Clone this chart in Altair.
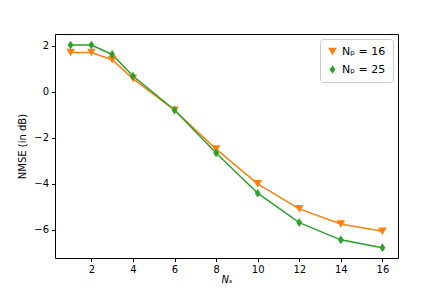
import altair as alt
import pandas as pd

ns = [1, 2, 3, 4, 6, 8, 10, 12, 14, 16]
nmse_p16 = [1.71, 1.71, 1.40, 0.58, -0.80, -2.49, -4.00, -5.09, -5.75, -6.07]
nmse_p25 = [2.04, 2.04, 1.63, 0.69, -0.79, -2.66, -4.41, -5.69, -6.44, -6.78]
series = ["Nₚ = 16", "Nₚ = 25"]
colors = ["#ff7f0e", "#2ca02c"]
shapes = ["triangle-down", "M0,-1L0.68,0L0,1L-0.68,0Z"]
x_ticks = [2, 4, 6, 8, 10, 12, 14, 16]
y_ticks = [-6, -4, -2, 0, 2]

rows = []
for s, vals in zip(series, [nmse_p16, nmse_p25]):
    for x, y in zip(ns, vals):
        rows.append({"Ns": x, "NMSE": y, "series": s})
df = pd.DataFrame(rows)

leg = alt.Legend(title=None, orient="top-right", offset=5, padding=7,
                 strokeColor="#cccccc", fillColor="white", cornerRadius=3,
                 labelFontSize=11, symbolSize=75, rowPadding=6,
                 symbolStrokeWidth=0)

xs = alt.X("Ns:Q", scale=alt.Scale(domain=[0.25, 16.75], nice=False, zero=False),
           axis=alt.Axis(values=x_ticks, title="Nₛ", titleFontStyle="italic", titleFontSize=10,
                         titleFontWeight="normal", titlePadding=0))
ys = alt.Y("NMSE:Q", scale=alt.Scale(domain=[-7.23, 2.52], nice=False, zero=False),
           axis=alt.Axis(values=y_ticks, title="NMSE (in dB)", titleFontWeight="normal",
                         titleFontSize=10, titlePadding=6))
col = alt.Color("series:N", scale=alt.Scale(domain=series, range=colors), legend=leg)
shp = alt.Shape("series:N", scale=alt.Scale(domain=series, range=shapes), legend=leg)

lines = alt.Chart(df).mark_line(strokeWidth=1.5).encode(x=xs, y=ys, color=col, detail="series:N")
points = alt.Chart(df).mark_point(filled=True, opacity=1, size=75).encode(
    x=xs, y=ys, color=col, shape=shp)

chart = alt.layer(lines, points).properties(
    width=343, height=224,
    autosize=alt.AutoSizeParams(type="none"),
    padding={"left": 47, "top": 26, "right": 37, "bottom": 29},
).configure_view(stroke="black", strokeWidth=1).configure_axis(
    grid=False, domain=False, tickColor="black", tickSize=3.5, labelFontSize=10,
    labelColor="black", titleColor="black", labelPadding=3, labelFont="DejaVu Sans",
    titleFont="DejaVu Sans"
).configure_legend(labelFont="DejaVu Sans", labelColor="black")

chart.save("out.html", embed_options={"renderer": "svg", "actions": False})
